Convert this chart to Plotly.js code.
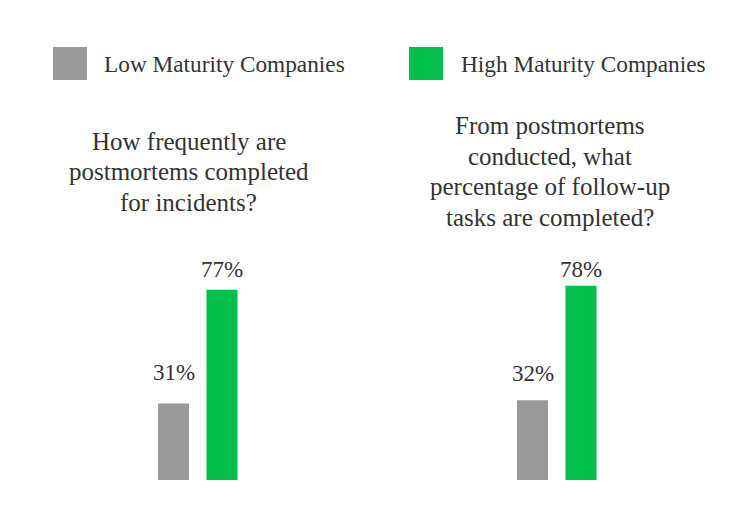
<!DOCTYPE html>
<html>
<head>
<meta charset="utf-8">
<script src="https://cdn.plot.ly/plotly-3.0.1.min.js"></script>
<style>html,body{margin:0;padding:0;background:#fff}#chart{width:739px;height:532px}</style>
</head>
<body>
<div id="chart"></div>
<script>
const groups = ['Low Maturity Companies', 'High Maturity Companies'];
const colors = ['#999999', '#00C04B'];
const question1Lines = ['How frequently are', 'postmortems completed', 'for incidents?'];
const question2Lines = ['From postmortems', 'conducted, what', 'percentage of follow-up', 'tasks are completed?'];
const values1 = [31, 77];
const values2 = [32, 78];

const FONT = '"Liberation Serif", "Times New Roman", serif';
const TXT = '#333333';

function barTrace(vals, xa, ya) {
  return {
    type: 'bar', x: groups, y: vals, xaxis: xa, yaxis: ya,
    marker: {color: colors, line: {width: 0}},
    width: 0.64,
    showlegend: false, hoverinfo: 'skip'
  };
}

const data = [barTrace(values1, 'x', 'y'), barTrace(values2, 'x2', 'y2')];

const W = 739, H = 532;
const ax = (d) => ({domain: d, type: 'category', range: [-0.5, 1.5], showgrid: false, zeroline: false, showline: false, showticklabels: false, ticks: '', fixedrange: true});
const ay = (top) => ({domain: [(H - 480) / H, (H - top) / H], range: [0, 100], showgrid: false, zeroline: false, showline: false, showticklabels: false, ticks: '', fixedrange: true});

const shapes = [];
const annotations = [];
const legX = [[53, 87], [409, 443]];
const legTextX = [102, 459];
groups.forEach((g, i) => {
  shapes.push({type: 'rect', xref: 'paper', yref: 'paper',
    x0: legX[i][0] / W, x1: legX[i][1] / W, y0: 1 - 80 / H, y1: 1 - 47 / H,
    fillcolor: colors[i], line: {width: 0}});
  annotations.push({text: g, xref: 'paper', yref: 'paper', x: legTextX[i] / W, y: 1 - 63.5 / H,
    xanchor: 'left', yanchor: 'middle', showarrow: false,
    font: {family: FONT, size: 23.3, color: TXT}});
});
function addTitle(lines, cx, yCenters) {
  lines.forEach((t, i) => {
    annotations.push({text: t, xref: 'paper', yref: 'paper', x: cx / W, y: 1 - yCenters[i] / H,
      xanchor: 'center', yanchor: 'middle', showarrow: false,
      font: {family: FONT, size: 25, color: TXT}});
  });
}
addTitle(question1Lines, 188.5, [141.5, 172, 202.5]);
addTitle(question2Lines, 550, [125.5, 156.5, 187, 217.5]);

// value labels above bars (lift in px above bar top)
const labelLift = [[31, 20], [26.5, 16]];
[[values1, 'x', 'y'], [values2, 'x2', 'y2']].forEach(([vals, xr, yr], s) => {
  vals.forEach((v, i) => {
    annotations.push({text: v + '%', xref: xr, yref: yr, x: groups[i], y: v,
      xanchor: 'center', yanchor: 'middle', yshift: labelLift[s][i], showarrow: false,
      font: {family: FONT, size: 23, color: TXT}});
  });
});

const layout = {
  width: W, height: H,
  margin: {l: 0, r: 0, t: 0, b: 0},
  paper_bgcolor: '#ffffff', plot_bgcolor: '#ffffff',
  showlegend: false,
  xaxis: ax([149.25 / W, 246.25 / W]),
  xaxis2: ax([508.25 / W, 605.25 / W]),
  yaxis: Object.assign({anchor: 'x'}, ay(233)),
  yaxis2: Object.assign({anchor: 'x2'}, ay(231)),
  shapes: shapes,
  annotations: annotations,
  font: {family: FONT, color: TXT}
};

Plotly.newPlot('chart', data, layout, {displayModeBar: false, staticPlot: true});
</script>
</body>
</html>
